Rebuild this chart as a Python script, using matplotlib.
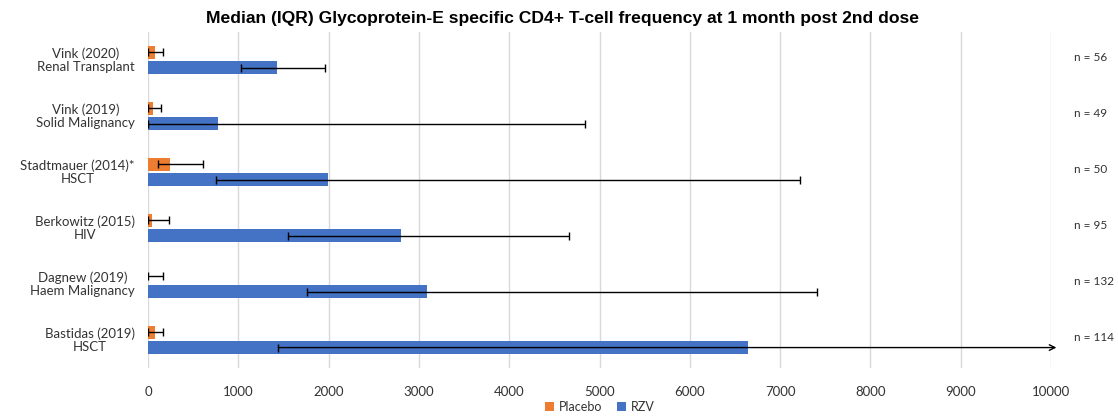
import numpy as np
import matplotlib.pyplot as plt
import matplotlib.transforms as mtransforms

plt.rcParams['font.family'] = ['Lato', 'DejaVu Sans']

studies = ['Vink (2020)\nRenal Transplant', 'Vink (2019)\nSolid Malignancy',
           'Stadtmauer (2014)*\nHSCT', 'Berkowitz (2015)\nHIV',
           'Dagnew (2019)\nHaem Malignancy', 'Bastidas (2019)\nHSCT']
n_labels = ['n = 56', 'n = 49', 'n = 50', 'n = 95', 'n = 132', 'n = 114']

# medians and IQR
placebo_med = np.array([80, 52, 240, 40, 0, 81])
placebo_lo = np.array([0, 0, 107, 0, 0, 0])
placebo_hi = np.array([165, 145, 605, 236, 170, 170])

rzv_med = np.array([1428, 772, 1990, 2800, 3090, 6645])
rzv_lo = np.array([1030, 0, 753, 1554, 1757, 1443])
rzv_hi = np.array([1960, 4840, 7220, 4660, 7410, np.nan])  # last one runs off the axis

orange = '#ED7D31'
blue = '#4472C4'

fig = plt.figure(figsize=(11.18, 4.16), dpi=100)
ax = fig.add_axes([148 / 1118, 1 - 368 / 416, 903 / 1118, 336 / 416])

y = np.arange(len(studies))
off = 0.135
h = 0.235

ax.barh(y - off, placebo_med, height=h, color=orange, label='Placebo', zorder=2)
ax.barh(y + off, rzv_med, height=h, color=blue, label='RZV', zorder=2)

ebkw = dict(fmt='none', ecolor='black', elinewidth=1, capsize=3, capthick=1, zorder=3)
ax.errorbar(placebo_med, y - off, xerr=[placebo_med - placebo_lo, placebo_hi - placebo_med], **ebkw)
ok = ~np.isnan(rzv_hi)
ax.errorbar(rzv_med[ok], (y + off)[ok],
            xerr=[(rzv_med - rzv_lo)[ok], (rzv_hi - rzv_med)[ok]], **ebkw)
# open-ended IQR: cap at the lower end, arrow past the axis
for i in np.where(~ok)[0]:
    ax.plot([rzv_lo[i]], [y[i] + off], marker='|', color='black', ms=6, mew=1, zorder=3)
    ax.annotate('', xy=(10060, y[i] + off), xytext=(rzv_lo[i], y[i] + off),
                arrowprops=dict(arrowstyle='->', color='black', lw=1, shrinkA=0, shrinkB=0),
                annotation_clip=False, zorder=3)

ax.set_xlim(0, 10000)
ax.set_ylim(len(studies) - 0.5, -0.5)
ax.set_xticks(np.arange(0, 10001, 1000))
ax.grid(axis='x', color='#d9d9d9', lw=1, zorder=0)
ax.set_axisbelow(True)
for s in ax.spines.values():
    s.set_visible(False)
ax.tick_params(axis='x', length=0, pad=13, labelsize=9.5, labelcolor='#333333')
ax.set_yticks([])

tr = mtransforms.blended_transform_factory(fig.transFigure, ax.transData)
for i, lab in enumerate(studies):
    ax.text(135 / 1118, y[i], lab, transform=tr, ha='right', va='center',
            multialignment='center', fontsize=9.5, color='#333333', linespacing=1.15)
    ax.text(1074 / 1118, y[i] - 0.04, n_labels[i], transform=tr, ha='left', va='center',
            fontsize=8.5, color='#333333', clip_on=False)

fig.text(563 / 1118, 1 - 19 / 416,
         'Median (IQR) Glycoprotein-E specific CD4+ T-cell frequency at 1 month post 2nd dose',
         ha='center', va='center', fontsize=12.6, fontweight='bold',
         family=['Liberation Sans Narrow', 'Liberation Sans', 'DejaVu Sans'])

fig.legend(loc='center', bbox_to_anchor=(600 / 1118, 1 - 407 / 416), ncol=2, frameon=False,
           fontsize=9, handlelength=0.7, handleheight=0.7, handletextpad=0.4, columnspacing=1.2,
           labelcolor='#333333')

fig.savefig('out.png', dpi=100)
